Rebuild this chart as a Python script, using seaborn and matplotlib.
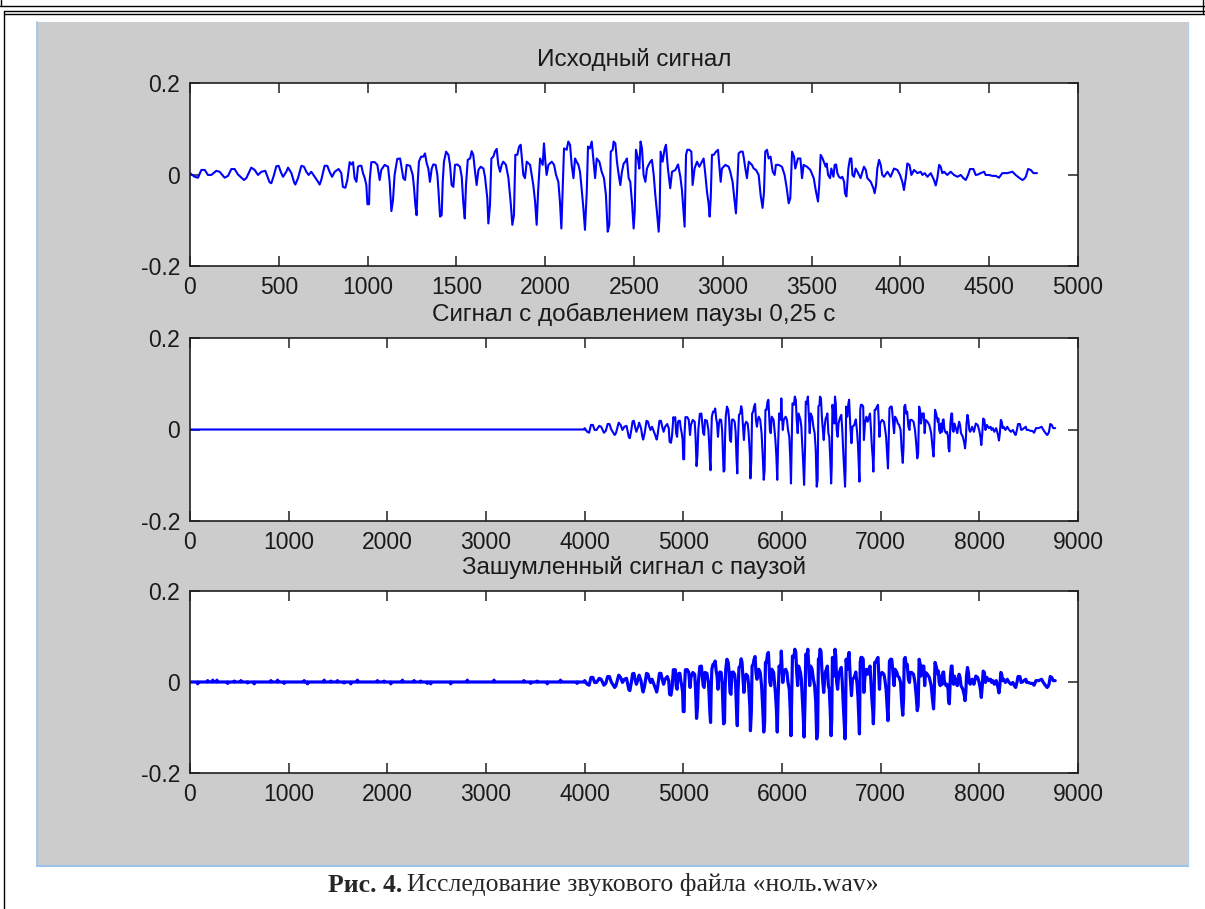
import numpy as np
import pandas as pd
import seaborn as sns
import matplotlib.pyplot as plt
from matplotlib.lines import Line2D
from matplotlib.patches import Rectangle

# Original signal (sample index, amplitude)
sig_n = [0, 26, 45, 64, 83, 101, 120, 148, 167, 195, 214, 233, 251, 270, 304, 317, 345, 364, 383, 402,
         424, 448, 458, 473, 486, 499, 514, 524, 542, 552, 571, 586, 593, 608, 627, 642, 655, 668, 683, 702,
         721, 730, 739, 758, 773, 786, 800, 815, 837, 852, 861, 875, 886, 899, 908, 918, 927, 937, 946, 955,
         965, 974, 984, 993, 999, 1008, 1012, 1021, 1040, 1055, 1068, 1077, 1096, 1115, 1124, 1134, 1143, 1152, 1167,
         1183, 1192, 1201, 1211, 1220, 1239, 1254, 1261, 1269, 1276, 1282, 1289, 1301, 1314, 1323, 1333, 1342, 1351,
         1361, 1370, 1383, 1393, 1400, 1408, 1417, 1423, 1430, 1442, 1455, 1464, 1473, 1483, 1492, 1505, 1520, 1530,
         1539, 1547, 1554, 1564, 1577, 1586, 1595, 1605, 1614, 1624, 1637, 1652, 1661, 1674, 1680, 1689, 1697, 1708,
         1717, 1727, 1736, 1746, 1755, 1764, 1779, 1793, 1806, 1815, 1824, 1832, 1843, 1853, 1862, 1869, 1877, 1886,
         1896, 1915, 1924, 1933, 1943, 1952, 1960, 1971, 1986, 1993, 2001, 2008, 2018, 2037, 2050, 2061, 2074, 2083,
         2091, 2098, 2106, 2121, 2130, 2140, 2149, 2159, 2168, 2177, 2187, 2196, 2205, 2215, 2224, 2234, 2241, 2252,
         2262, 2271, 2281, 2290, 2305, 2318, 2331, 2342, 2352, 2361, 2369, 2380,
         2385, 2395, 2404, 2414, 2423, 2432, 2442, 2451, 2460, 2470, 2479, 2489, 2498, 2504, 2511, 2522, 2530, 2537,
         2545, 2554, 2564, 2573, 2582, 2592, 2601, 2611, 2620, 2629, 2639, 2644, 2650, 2661, 2673, 2680, 2691, 2704,
         2714, 2733, 2748, 2761, 2770, 2780, 2785, 2793, 2800, 2811, 2823, 2830, 2841, 2855, 2868, 2883, 2892, 2902,
         2911, 2920, 2926, 2932, 2939, 2949, 2962, 2973, 2980, 2988, 2995, 3014, 3033, 3042, 3055, 3063, 3074, 3080,
         3089, 3101, 3112, 3119, 3127, 3136, 3146, 3164, 3174, 3187, 3202, 3213, 3224, 3232, 3239, 3249, 3258, 3269,
         3281, 3292, 3299, 3314, 3333, 3348, 3360, 3371, 3380, 3390, 3401, 3408, 3423, 3437, 3446, 3455, 3474, 3493,
         3512, 3525, 3536, 3543, 3551, 3562,
         3579, 3585, 3593, 3604, 3611, 3623, 3630, 3638, 3645, 3654, 3664, 3673, 3683, 3688, 3696, 3701, 3707, 3716,
         3724, 3730, 3739, 3748, 3758, 3767, 3776, 3786, 3795, 3805, 3814, 3833, 3848, 3855, 3863, 3870, 3880, 3889,
         3898, 3908, 3927, 3945, 3964, 3983, 3998, 4011, 4020, 4030, 4039, 4051, 4062, 4077, 4096, 4114, 4124, 4137,
         4152, 4171, 4189, 4199, 4208, 4218, 4227, 4236, 4246, 4264, 4283, 4302, 4321, 4340, 4355, 4368, 4381, 4392,
         4411, 4424, 4437, 4452, 4471, 4480, 4499, 4518, 4537, 4555, 4574, 4602, 4631, 4649, 4668, 4687, 4696, 4706,
         4719, 4734, 4749, 4769]
sig_v = [0.003, -0.005, -0.007, 0.010, 0.010, -0.001, -0.001, 0.008, 0.006, -0.007, -0.003, 0.012, 0.012, 0.000,
         -0.012, -0.008, 0.015, 0.010, -0.001, 0.006, 0.008, -0.017, -0.019, -0.001, 0.018, 0.019, 0.003, -0.005,
         0.006, 0.015, 0.003, -0.017, -0.022, -0.008, 0.019, 0.017, 0.006, -0.001, 0.006, -0.005, -0.016, -0.022,
         -0.012, 0.019, 0.019, 0.006, -0.005, 0.006, 0.012, 0.003, -0.027, -0.029, -0.012, 0.027, 0.022, 0.027,
         -0.008, -0.016, 0.017, 0.019, 0.019, 0.003, -0.008, -0.023, -0.065, -0.065, -0.012, 0.027, 0.027, 0.021,
         -0.012, 0.010, 0.021, 0.017, -0.016, -0.080, -0.056, -0.001, 0.034,
         0.035, 0.013, -0.008, -0.012, 0.021, 0.019, -0.001, -0.027, -0.067, -0.089, -0.019, 0.028, 0.039, 0.039,
         0.046, 0.024, 0.013, -0.016, 0.013, 0.022, 0.021, -0.001, -0.041, -0.092, -0.089, -0.016, 0.028, 0.050,
         0.043, 0.021, -0.023, -0.027, 0.021, 0.022, 0.017, -0.005, -0.063, -0.096, -0.023, 0.032, 0.035, 0.051,
         0.043, 0.006, -0.023, 0.010, 0.017, 0.013, -0.005, -0.052, -0.107, -0.067, 0.035, 0.039, 0.050, 0.056,
         0.021, 0.006, 0.021, 0.028, 0.021, -0.008, -0.063, -0.110, -0.089, 0.043, 0.043, 0.061, 0.065, 0.035,
         -0.001, -0.008, 0.028, 0.021, -0.001, -0.023, -0.059, -0.110, -0.038, 0.035, 0.021, 0.068, 0.028, -0.001,
         0.021, 0.028, 0.021, -0.001, -0.016, -0.059, -0.118, -0.038, 0.057, 0.054, 0.072, 0.065, 0.021, -0.008,
         0.035, 0.028, 0.021, 0.006, -0.030, -0.074, -0.121, -0.038, 0.061, 0.057, 0.072, 0.035, -0.008, 0.035,
         0.028, 0.006, -0.008, -0.045, -0.125, -0.110, 0.050, 0.054,
         0.072, 0.068, 0.028, -0.001, -0.023, 0.006, 0.024, 0.028, 0.035, -0.008, -0.016, -0.063, -0.118, -0.081,
         0.054, 0.035, 0.013, 0.072, 0.057, -0.001, -0.016, 0.013, 0.021, 0.028, 0.032, -0.001, -0.045, -0.081,
         -0.125, -0.089, 0.050, 0.028, 0.057, 0.065, 0.013, -0.030, 0.006, 0.010, 0.022, -0.005, -0.034, -0.089,
         -0.114, 0.043, 0.054, 0.054, 0.050, -0.023, 0.013, 0.028, 0.017, 0.028, 0.035, -0.001, -0.038, -0.063,
         -0.092, -0.052, 0.043, 0.043, 0.050, 0.054, 0.021, -0.016, 0.013, 0.021, 0.017, 0.006, -0.016, -0.045,
         -0.085, -0.038, 0.046, 0.050, 0.050, 0.035, 0.013, -0.008, 0.028, 0.021, 0.013, 0.010, -0.001, -0.045,
         -0.073, -0.038, 0.050, 0.054, 0.035, 0.039, 0.006, -0.001, 0.021, 0.021, 0.017, -0.001, -0.030, -0.063,
         -0.052, 0.050, 0.039, 0.013, 0.035, 0.035, -0.008, 0.021, 0.017, 0.010, -0.008, -0.038, -0.059, -0.023,
         0.043, 0.035,
         0.017, 0.024, -0.001, -0.008, 0.013, -0.005, 0.021, 0.022, 0.003, -0.005, -0.008, -0.005, -0.016, -0.041,
         -0.048, -0.019, 0.013, 0.035, 0.035, -0.001, -0.005, 0.013, 0.006, -0.001, -0.008, 0.006, 0.017, 0.010,
         -0.008, -0.016, -0.030, -0.041, -0.023, 0.013, 0.032, 0.021, -0.001, -0.005, 0.006, -0.005, 0.013, 0.010,
         -0.001, -0.016, -0.034, -0.008, 0.024, 0.021, -0.001, 0.010, 0.003, 0.006, -0.001, 0.003, -0.005, 0.003,
         -0.012, -0.024, -0.008, 0.021, 0.017, 0.003, 0.006, -0.001, 0.006, -0.001, -0.005, -0.001, -0.008, -0.012,
         -0.001, 0.012, 0.012, -0.001, 0.000, 0.003, 0.006, -0.001, -0.001, -0.003, -0.003, -0.007, 0.003, 0.003,
         0.006, -0.001, -0.007, -0.012, -0.010, -0.005, 0.012, 0.010, 0.003, 0.003]

pause_len = 4000  # 0.25 s of silence

# small noise blips seen in the pause of the noisy signal
noise_n = [78, 179, 230, 273, 381, 449, 516, 584, 651, 820, 888, 955, 1157, 1191, 1360, 1427, 1495, 1562,
           1630, 1697, 1900, 1967, 2035, 2153, 2271, 2338, 2406, 2440, 2642, 2811, 3081, 3384, 3452, 3519,
           3621, 3755, 3924]
noise_v = [-0.004, 0.003, 0.004, 0.004, -0.003, 0.002, 0.003, -0.002, -0.004, 0.003, 0.004, -0.003, 0.003,
           -0.004, 0.004, 0.002, 0.003, -0.002, -0.004, 0.004, 0.003, 0.002, -0.004, 0.004, 0.003, 0.002,
           -0.003, -0.004, -0.004, 0.004, 0.004, 0.003, -0.003, 0.002, -0.004, 0.004, -0.003]

titles = ['Исходный сигнал', 'Сигнал с добавлением паузы 0,25 с', 'Зашумленный сигнал с паузой']
caption_bold = 'Рис. 4.'
caption_text = 'Исследование звукового файла «ноль.wav»'

sig_n = np.array(sig_n)
sig_v = np.array(sig_v)
orig = pd.DataFrame({'n': sig_n, 'v': sig_v})
paused = pd.DataFrame({'n': np.concatenate([[0, pause_len - 1], sig_n + pause_len]),
                       'v': np.concatenate([[0, 0], sig_v])})

# each blip is a short spike that returns to zero on both sides
blip_n = np.column_stack([np.array(noise_n) - 6, noise_n, np.array(noise_n) + 6]).ravel()
blip_v = np.column_stack([np.zeros(len(noise_v)), noise_v, np.zeros(len(noise_v))]).ravel()
noisy = pd.DataFrame({'n': np.concatenate([[0], blip_n, [pause_len - 1], sig_n + pause_len]),
                      'v': np.concatenate([[0], blip_v, [0], sig_v])})

sns.set_style('ticks')
plt.rcParams['font.family'] = ['Liberation Sans', 'DejaVu Sans']
plt.rcParams['axes.unicode_minus'] = False

W, H = 1205, 909
fig = plt.figure(figsize=(W / 100, H / 100), dpi=100)
fig.patch.set_facecolor('white')


def fx(x):
    return x / W


def fy(y):
    return 1 - y / H


# page frame and grey window area
fig.add_artist(Rectangle((fx(37), fy(866)), fx(1188) - fx(37), fy(22) - fy(866),
                         transform=fig.transFigure, facecolor='#cccccc', edgecolor='none', zorder=0))
for xs, ys, c, lw in [([0, W], [6, 6], 'black', 1.0),
                      ([4, W], [11, 11], 'black', 1.0),
                      ([4, W], [13.5, 13.5], 'black', 1.0),
                      ([4, 4], [11, H], 'black', 1.0),
                      ([1, 1], [0, 6], 'black', 1.0),
                      ([1203, 1203], [0, 13], 'black', 1.0),
                      ([37, 37], [22, 866], '#9cc3ea', 1.2),
                      ([1188, 1188], [22, 866], '#b5d2ee', 1.0),
                      ([37, 1188], [866, 866], '#9cc3ea', 1.5)]:
    fig.add_artist(Line2D([fx(v) for v in xs], [fy(v) for v in ys], color=c, lw=lw,
                          transform=fig.transFigure))

boxes = [(83, 266), (338, 521), (591, 773)]
datas = [orig, paused, noisy]
xmax = [5000, 9000, 9000]
xstep = [500, 1000, 1000]
widths = [1.5, 1.5, 2.3]

for i in range(3):
    top, bot = boxes[i]
    ax = fig.add_axes([fx(190), fy(bot), fx(1078) - fx(190), fy(top) - fy(bot)])
    sns.lineplot(data=datas[i], x='n', y='v', ax=ax, color='blue', lw=widths[i],
                 estimator=None, sort=False)
    ax.set_xlim(0, xmax[i])
    ax.set_ylim(-0.2, 0.2)
    ax.set_xticks(np.arange(0, xmax[i] + 1, xstep[i]))
    ax.set_xticklabels([str(t) for t in np.arange(0, xmax[i] + 1, xstep[i])])
    ax.set_yticks([-0.2, 0, 0.2], labels=['-0.2', '0', '0.2'])
    ax.set_xlabel('')
    ax.set_ylabel('')
    ax.set_facecolor('white')
    for s in ax.spines.values():
        s.set_visible(True)
        s.set_color('#202020')
        s.set_linewidth(1.2)
    ax.tick_params(direction='in', length=7, width=1.1, top=True, right=True,
                   labelsize=16.5, pad=7, colors='#202020', labelcolor='#1a1a1a')
    ax.set_title(titles[i], fontsize=17.5, pad=12, color='#1a1a1a')

fig.text(fx(328), fy(885), caption_bold, fontsize=18.5, fontweight='bold',
         family=['Liberation Serif', 'DejaVu Serif'], va='center', ha='left')
fig.text(fx(407), fy(885), caption_text, fontsize=18.5,
         family=['Liberation Serif', 'DejaVu Serif'], va='center', ha='left')

fig.savefig('out.png', dpi=100, facecolor='white')
